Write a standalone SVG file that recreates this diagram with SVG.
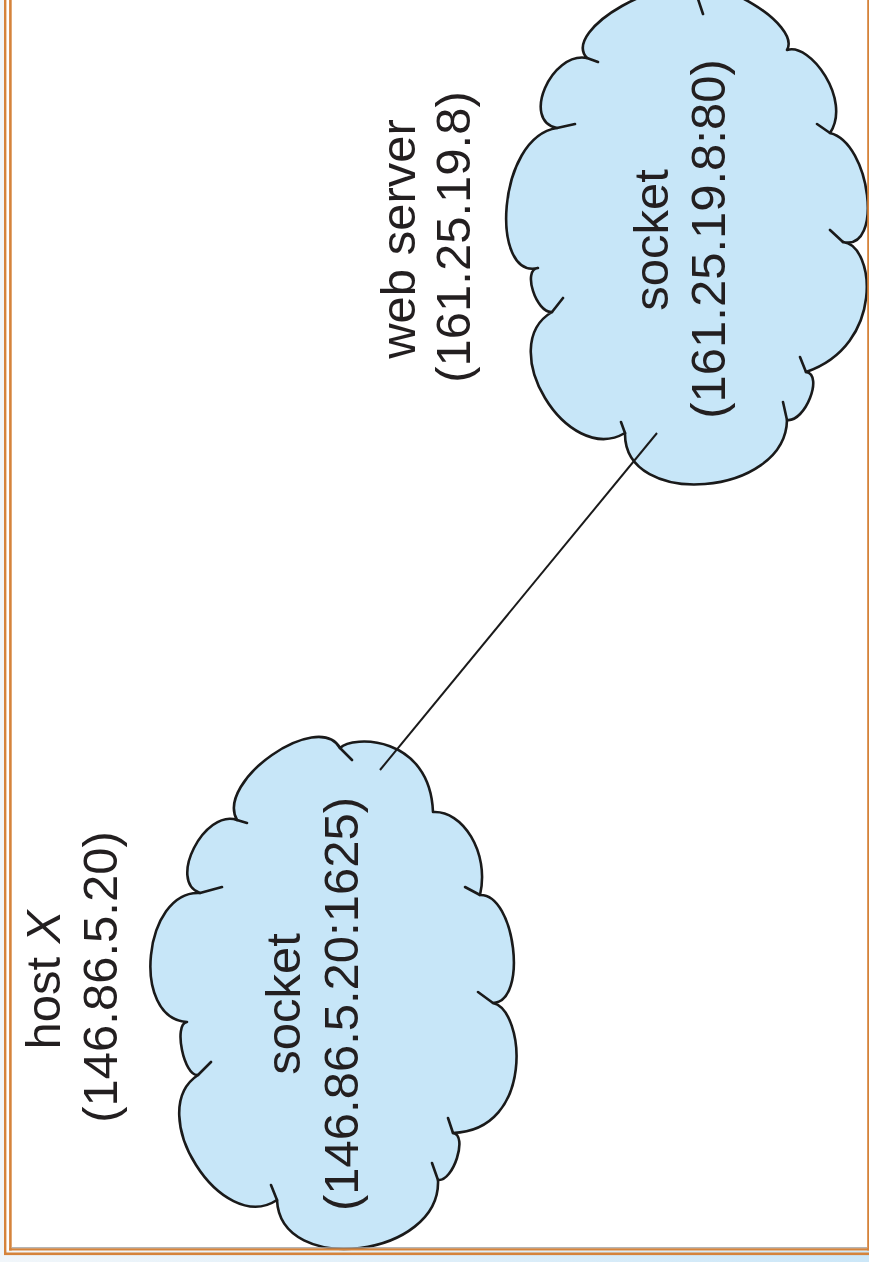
<svg xmlns="http://www.w3.org/2000/svg" width="869" height="1262" viewBox="0 0 869 1262">
  <style>
    .cloud { fill: #c7e6f8; stroke: #1a1a1a; stroke-width: 2.6; stroke-linejoin: round; }
    .crease { fill: none; stroke: #1a1a1a; stroke-width: 2.6; stroke-linecap: round; }
    .label { font-family: "Liberation Sans", Arial, sans-serif; font-size: 49px; fill: #231f20; text-anchor: middle; }
    .wire { stroke: #1a1a1a; stroke-width: 2; fill: none; }
    .frame { fill: #d5833b; }
  </style>
  <defs>
    <linearGradient id="bg" x1="0" y1="0" x2="1" y2="0">
      <stop offset="0" stop-color="#f1f6fa"/>
      <stop offset="1" stop-color="#cce7f8"/>
    </linearGradient>
  </defs>

  <!-- page background and white panel -->
  <rect x="0" y="0" width="869" height="1262" fill="url(#bg)"/>
  <rect x="4" y="0" width="865" height="1250.5" fill="#ffffff"/>

  <!-- web server socket cloud -->
  <g id="server-socket">
    <path class="cloud" d="M697,-4
      C711.7,-29.3 801.7,24.7 787,50
      C810,42 852,100 830,133
      C870.7,143 883.7,252 843,242
      C875,245 885,345 806,372
      C824,374.7 805,422.7 787,420
      C785.7,496.7 623.7,509.7 625,433
      C567,467 494,346 552,312
      C536,313.3 522,269.3 538,268
      C490,280 496.3,137.3 557,128
      C521,121.3 551,51.3 587,58
      C560.3,30 670.3,-32 697,-4 Z"/>
    <path class="crease" d="M697,-4 L703,14 M830,133 L817,124 M843,242 L830,230 M806,372 L800,357 M787,420 L783,402 M625,433 L621,422 M552,312 L563,298 M557,128 L575,124 M587,58 L598,62"/>
    <text class="label" transform="translate(668,240) rotate(-90)">socket</text>
    <text class="label" transform="translate(725,239) rotate(-90)">(161.25.19.8:80)</text>
  </g>

  <!-- host X socket cloud -->
  <g id="host-socket">
    <path class="cloud" d="M340,748
      C352,735 430,735 433,812
      C462,810 490,852 480,895
      C515.3,893.7 528.3,1001.7 493,1003
      C525,1010 535,1130 453,1133
      C468.3,1135 453.3,1182 438,1180
      C441.3,1257.3 280.3,1277.3 277,1200
      C221.7,1236.7 142.7,1111.7 198,1075
      C184,1077 173,1024 187,1022
      C130.3,1018.7 143.3,889.7 200,893
      C167.3,881.7 204.3,808.7 237,820
      C215,781.3 318,709.3 340,748 Z"/>
    <path class="crease" d="M340,748 L352,760 M480,895 L465,887 M493,1003 L478,992 M453,1133 L448,1118 M438,1180 L432,1163 M277,1200 L271,1185 M198,1075 L211,1062 M200,893 L222,887 M237,820 L247,823"/>
    <text class="label" transform="translate(300,1004) rotate(-90)">socket</text>
    <text class="label" transform="translate(358,1004) rotate(-90)">(146.86.5.20:1625)</text>
  </g>

  <!-- host and server captions -->
  <g id="host-label">
    <text class="label" transform="translate(60,980) rotate(-90)">host <tspan font-style="italic">X</tspan></text>
    <text class="label" transform="translate(117,977) rotate(-90)">(146.86.5.20)</text>
  </g>
  <g id="server-label">
    <text class="label" transform="translate(415,239) rotate(-90)">web server</text>
    <text class="label" transform="translate(470,237) rotate(-90)">(161.25.19.8)</text>
  </g>

  <!-- connection between the two sockets -->
  <g id="connectors">
    <line class="wire" x1="657" y1="433" x2="380" y2="770"/>
  </g>

  <!-- double frame -->
  <g id="frame">
    <rect class="frame" x="4" y="0" width="2.4" height="1255"/>
    <rect class="frame" x="4" y="1252.5" width="865" height="2.6"/>
    <rect class="frame" x="9.1" y="0" width="2.6" height="1250.5"/>
    <rect class="frame" x="9.1" y="1248.2" width="859.9" height="2.3"/>
    <rect class="frame" x="867.2" y="0" width="1.8" height="1250.5"/>
    <rect x="11.7" y="1247.2" width="855.5" height="1" fill="#a3a3a3"/>
  </g>
</svg>
